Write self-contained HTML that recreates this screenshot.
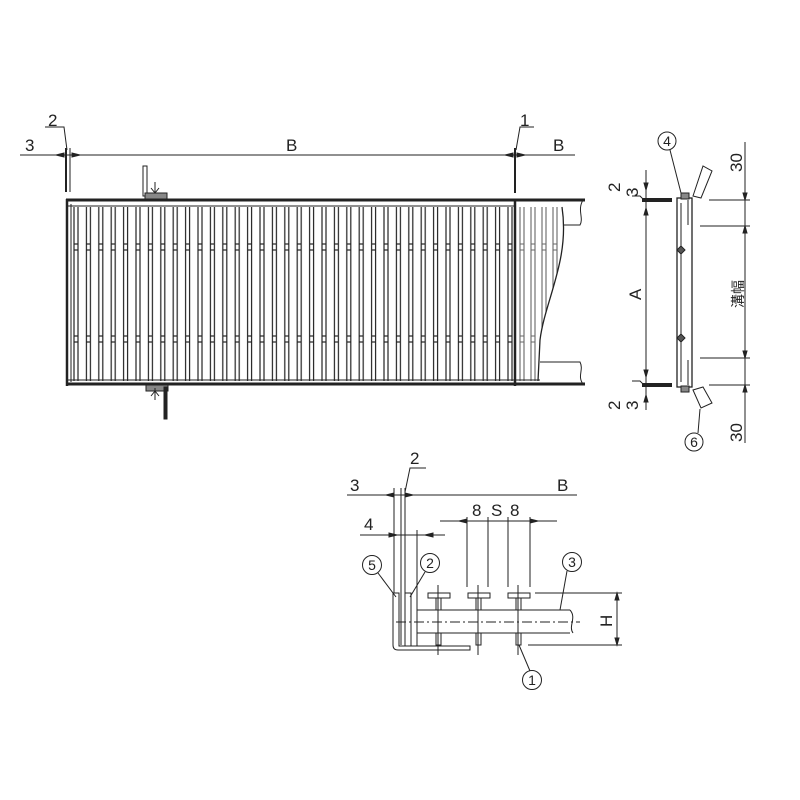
<!DOCTYPE html>
<html><head><meta charset="utf-8"><style>
html,body{margin:0;padding:0;background:#fff;width:800px;height:800px;overflow:hidden}
svg{display:block}
text{font-family:"Liberation Sans","Noto Sans CJK JP",sans-serif;fill:#222}
</style></head><body>
<svg width="800" height="800" viewBox="0 0 800 800" xmlns="http://www.w3.org/2000/svg">
<defs>
<pattern id="bars" x="72" y="0" width="12.4" height="800" patternUnits="userSpaceOnUse">
<rect x="2" y="0" width="4" height="800" fill="#fff" stroke="#222" stroke-width="1.2"/>
<line x1="2" y1="244" x2="6" y2="244" stroke="#222" stroke-width="1.2"/>
<line x1="2" y1="250" x2="6" y2="250" stroke="#222" stroke-width="1.2"/>
<line x1="2" y1="336" x2="6" y2="336" stroke="#222" stroke-width="1.2"/>
<line x1="2" y1="342" x2="6" y2="342" stroke="#222" stroke-width="1.2"/>
</pattern>
<pattern id="bars2" x="517" y="0" width="11" height="800" patternUnits="userSpaceOnUse">
<rect x="3" y="0" width="4" height="800" fill="#fff" stroke="#666" stroke-width="1.1"/>
<line x1="3" y1="244" x2="7" y2="244" stroke="#666"/><line x1="3" y1="250" x2="7" y2="250" stroke="#666"/>
<line x1="3" y1="336" x2="7" y2="336" stroke="#666"/><line x1="3" y1="342" x2="7" y2="342" stroke="#666"/>
</pattern>
<clipPath id="wave"><path d="M517 207 L562 207 C570 260 545 300 540 340 L538 381 L517 381 Z"/></clipPath>
</defs>
<g stroke="#222" fill="none" stroke-width="1">
<line x1="20" y1="155" x2="575" y2="155"/>
<line x1="66" y1="148" x2="66" y2="192" stroke-width="2"/>
<line x1="70" y1="148" x2="70" y2="192" stroke-width="1"/>
<line x1="515" y1="148" x2="515" y2="193" stroke-width="2"/>
<path d="M45 127 L64 127 L67 150"/>
<path d="M534 127 L520 127 L516 150"/>
<path d="M56 155 l8 -2 v4 z M80 155 l-8 -2 v4z M505 155 l8 -2 v4z M525 155 l-8 -2 v4z" fill="#222"/>
<rect x="72" y="207" width="443" height="174" fill="url(#bars)" stroke="none"/>
<rect x="517" y="207" width="50" height="174" fill="url(#bars2)" stroke="none" clip-path="url(#wave)"/>
<path d="M562 207 C570 260 545 300 540 340 L538 381" stroke-width="1.3"/>
<line x1="66" y1="200" x2="585" y2="200" stroke-width="3"/>
<line x1="66" y1="206" x2="515" y2="206" stroke-width="1"/>
<line x1="66" y1="384" x2="585" y2="384" stroke-width="3"/>
<line x1="66" y1="380" x2="540" y2="380" stroke-width="1"/>
<line x1="67" y1="199" x2="67" y2="386" stroke-width="2.5"/>
<line x1="71" y1="204" x2="71" y2="382"/>
<line x1="515" y1="199" x2="515" y2="386" stroke-width="2.5"/>
<path d="M563 225 L580 225 C584 218 577 210 583 200"/>
<path d="M540 362 L580 362 C584 370 577 376 583 384"/>
<rect x="143" y="166" width="4" height="30" fill="#fff"/>
<rect x="145" y="193" width="22" height="6" fill="#888"/>
<path d="M155 182 v10 M151 188 l4 5 l4 -5"/>
<rect x="146" y="385" width="22" height="6" fill="#888"/>
<rect x="164" y="387" width="3" height="32" fill="#222"/>
<path d="M155 388 v12 M151 396 l4 -5 l4 5"/>
</g>
<g font-size="17">
<text x="25" y="151">3</text>
<text x="48" y="126">2</text>
<text x="286" y="151">B</text>
<text x="520" y="126">1</text>
<text x="553" y="151">B</text>
</g>

<g stroke="#222" fill="none" stroke-width="1">
<line x1="646" y1="170" x2="646" y2="410"/>
<line x1="642" y1="200" x2="672" y2="200" stroke-width="4"/>
<line x1="642" y1="385" x2="672" y2="385" stroke-width="4"/>
<path d="M646 190 l-2 -7 h4z M646 208 l-2 7 h4z M646 377 l-2 -7 h4z M646 395 l-2 7 h4z" fill="#222"/>
<path d="M632 196 L640 196 L644 200"/>
<path d="M632 381 L640 381 L644 385"/>
<rect x="677" y="198" width="15" height="189" fill="#fff" stroke-width="1.3"/>
<line x1="681" y1="203" x2="681" y2="382"/>
<line x1="688" y1="200" x2="688" y2="225"/>
<line x1="688" y1="360" x2="688" y2="385"/>
<rect x="681" y="193" width="8" height="6" fill="#888"/>
<rect x="681" y="386" width="8" height="6" fill="#888"/>
<path d="M693 196 L703 166 L712 171 L701 198 Z" fill="#fff"/>
<path d="M693 390 L701 408 L712 403 L703 387 Z" fill="#fff"/>
<path d="M681 246 l4 4 l-4 4 l-4 -4z M681 334 l4 4 l-4 4 l-4 -4z" fill="#555"/>
<line x1="709" y1="200" x2="750" y2="200"/>
<line x1="700" y1="226" x2="750" y2="226"/>
<line x1="700" y1="358" x2="750" y2="358"/>
<line x1="709" y1="385" x2="750" y2="385"/>
<line x1="745" y1="142" x2="745" y2="443"/>
<path d="M745 200 l-2 -7 h4z M745 226 l-2 7 h4z M745 358 l-2 -7 h4z M745 385 l-2 7 h4z" fill="#222"/>
<circle cx="667" cy="141" r="9"/>
<line x1="670" y1="150" x2="681" y2="193"/>
<circle cx="694" cy="442" r="9"/>
<line x1="700" y1="409" x2="698" y2="433"/>
</g>
<text x="667" y="146" font-size="14" text-anchor="middle">4</text>
<text x="694" y="447" font-size="14" text-anchor="middle">6</text>
<g font-size="17">
<text transform="translate(620,192) rotate(-90)">2</text>
<text transform="translate(638,197) rotate(-90)">3</text>
<text transform="translate(620,410) rotate(-90)">2</text>
<text transform="translate(638,410) rotate(-90)">3</text>
<text transform="translate(641,300) rotate(-90)">A</text>
<text transform="translate(742,172) rotate(-90)">30</text>
<text transform="translate(742,442) rotate(-90)">30</text>
<text transform="translate(743,308) rotate(-90)" font-size="14">溝幅</text>
</g>

<g stroke="#222" fill="none" stroke-width="1">
<line x1="347" y1="495" x2="577" y2="495"/>
<line x1="394" y1="488" x2="394" y2="645"/>
<line x1="401" y1="488" x2="401" y2="645"/>
<line x1="405" y1="488" x2="405" y2="645"/>
<path d="M386 495 l8 -2 v4z M413 495 l-8 -2 v4z" fill="#222"/>
<path d="M426 468 L410 468 L405 492"/>
<line x1="360" y1="535" x2="445" y2="535"/>
<line x1="417" y1="530" x2="417" y2="645"/>
<path d="M397 535 l-8 -2 v4z M425 535 l8 -2 v4z" fill="#222"/>
<line x1="440" y1="521" x2="557" y2="521"/>
<line x1="467" y1="517" x2="467" y2="587"/>
<line x1="488" y1="517" x2="488" y2="587"/>
<line x1="508" y1="517" x2="508" y2="587"/>
<line x1="530" y1="517" x2="530" y2="587"/>
<path d="M459 521 l8 -2 v4z M538 521 l-8 -2 v4z" fill="#222"/>
<path d="M393 593 L393 645 Q393 650 398 650 L470 650 L470 646 L399 646 L399 593 Z" fill="#fff"/>
<rect x="405" y="593" width="6" height="53" fill="#fff"/>
<line x1="417" y1="610" x2="417" y2="646"/>
<line x1="417" y1="610" x2="570" y2="610"/>
<line x1="417" y1="633" x2="570" y2="633"/>
<path d="M570 610 C577 618 568 626 573 633"/>
<line x1="396" y1="622" x2="580" y2="622" stroke-dasharray="10 3 2 3"/>
<g fill="#fff">
<rect x="428" y="593" width="22" height="5"/><rect x="436" y="598" width="5" height="12"/>
<rect x="468" y="593" width="22" height="5"/><rect x="476" y="598" width="5" height="12"/>
<rect x="508" y="593" width="22" height="5"/><rect x="516" y="598" width="5" height="12"/>
<rect x="436" y="633" width="5" height="12"/><rect x="476" y="633" width="5" height="12"/><rect x="516" y="633" width="5" height="12"/>
</g>
<line x1="438" y1="585" x2="438" y2="655"/>
<line x1="478" y1="585" x2="478" y2="655"/>
<line x1="518" y1="585" x2="518" y2="655"/>
<line x1="535" y1="593" x2="622" y2="593"/>
<line x1="528" y1="645" x2="622" y2="645"/>
<line x1="617" y1="593" x2="617" y2="645"/>
<path d="M617 593 l-2 7 h4z M617 645 l-2 -7 h4z" fill="#222"/>
<circle cx="372" cy="565" r="9.5"/><line x1="378" y1="573" x2="396" y2="597"/>
<circle cx="430" cy="563" r="9.5"/><line x1="425" y1="572" x2="410" y2="597"/>
<circle cx="572" cy="562" r="9.5"/><line x1="567" y1="571" x2="560" y2="610"/>
<circle cx="532" cy="680" r="9.5"/><line x1="530" y1="671" x2="519" y2="645"/>
</g>
<g font-size="17">
<text x="350" y="491">3</text>
<text x="410" y="464">2</text>
<text x="557" y="491">B</text>
<text x="364" y="530">4</text>
<text x="472" y="516">8</text>
<text x="491" y="516">S</text>
<text x="510" y="516">8</text>
<text transform="translate(612,627) rotate(-90)">H</text>
</g>
<g font-size="14" text-anchor="middle">
<text x="372" y="570">5</text>
<text x="430" y="568">2</text>
<text x="572" y="567">3</text>
<text x="532" y="685">1</text>
</g>
</svg>
</body></html>
